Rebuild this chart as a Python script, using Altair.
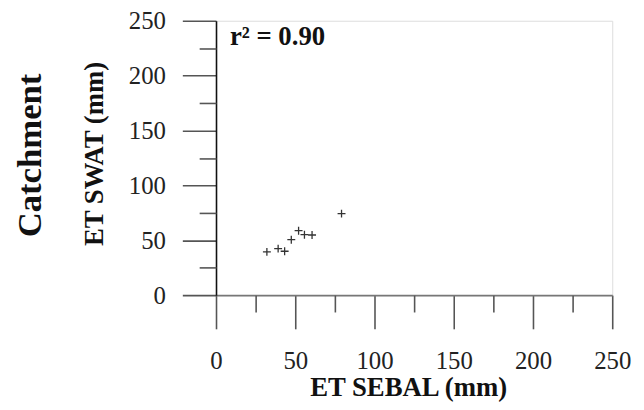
import altair as alt
import pandas as pd

# Data
sebal = [32.1, 39.2, 43.3, 47.5, 52.1, 55.8, 60.6, 79.2]
swat = [39.4, 42.4, 40.0, 50.5, 58.7, 55.1, 54.8, 74.3]
major_ticks = [0, 50, 100, 150, 200, 250]
minor_ticks = [25, 75, 125, 175, 225]
r2_label = ["r² = 0.90"]
panel_label = ["Catchment"]

FONT = "Liberation Serif"
df = pd.DataFrame({"sebal": sebal, "swat": swat})
scale = alt.Scale(domain=[0, 250], nice=False, zero=True)

common_major = dict(tickSize=34, tickColor="#555555", tickWidth=1.6, domainWidth=1.6,
                    labelFont=FONT, labelFontSize=25, labelColor="#222222",
                    labelFlush=False, labelOverlap=False, grid=False,
                    titleFont=FONT, titleFontSize=27, titleFontWeight="bold",
                    titleColor="#111111")

points = alt.Chart(df).mark_point(
    shape="M-1,0L1,0M0,-1L0,1", size=64, filled=False,
    stroke="#333333", strokeWidth=1.3, opacity=1
).encode(
    x=alt.X("sebal:Q", scale=scale,
            axis=alt.Axis(values=major_ticks, orient="bottom", domainColor="#777777",
                          labelPadding=20, title="ET SEBAL (mm)",
                          titleX=194, titleY=101, titleBaseline="alphabetic",
                          **common_major)),
    y=alt.Y("swat:Q", scale=scale,
            axis=alt.Axis(values=major_ticks, orient="left", domainColor="#111111",
                          labelPadding=17, title="ET SWAT (mm)",
                          titleX=-123, titleY=134, titleBaseline="middle",
                          **common_major)),
)

minor = alt.Chart(df).mark_point(opacity=0).encode(
    x=alt.X("sebal:Q", scale=scale,
            axis=alt.Axis(values=minor_ticks, orient="bottom", tickSize=17,
                          tickColor="#555555", tickWidth=1.6, labels=False,
                          domain=False, grid=False, title=None)),
    y=alt.Y("swat:Q", scale=scale,
            axis=alt.Axis(values=minor_ticks, orient="left", tickSize=17,
                          tickColor="#555555", tickWidth=1.6, labels=False,
                          domain=False, grid=False, title=None)),
)

r2 = alt.Chart(pd.DataFrame({"t": r2_label})).mark_text(
    font=FONT, fontSize=27, fontWeight="bold", align="left", baseline="alphabetic",
    color="#111111"
).encode(text="t:N", x=alt.value(14), y=alt.value(24))

panel = alt.Chart(pd.DataFrame({"t": panel_label})).mark_text(
    font=FONT, fontSize=35, fontWeight="bold", align="center", baseline="middle",
    angle=270, color="#111111"
).encode(text="t:N", x=alt.value(-188), y=alt.value(136))

chart = alt.layer(points, minor, r2, panel).resolve_axis(
    x="independent", y="independent"
).properties(
    width=400, height=277,
    autosize=alt.AutoSizeParams(type="none"),
    padding={"left": 210, "top": 11, "right": 24, "bottom": 106},
).configure_view(stroke=None).configure(background="white")

chart.save("out.html", embed_options={"renderer": "svg", "actions": False})
